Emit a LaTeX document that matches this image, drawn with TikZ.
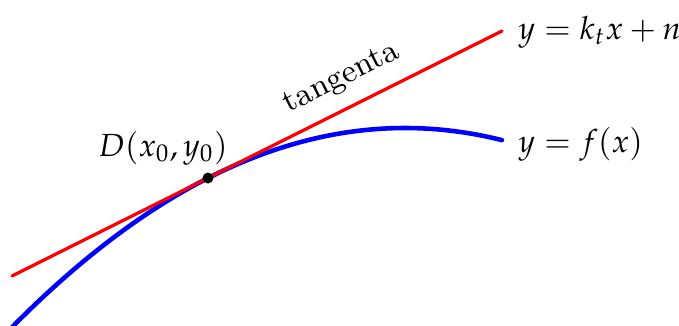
\documentclass[tikz,border=0pt]{standalone}
\usepackage{mathpazo}
\definecolor{TanRed}{HTML}{FF0000}
\definecolor{CurveBlue}{HTML}{0000FF}

\begin{document}
\begin{tikzpicture}[line cap=round,line join=round,font=\fontsize{9.1}{11}\selectfont]
  \useasboundingbox (0,0) rectangle (6.79,3.25);
  \coordinate (D) at (2.08,1.47);
  \coordinate (tA) at (0.12,0.49);
  \coordinate (tB) at (5.02,2.94);
  \draw[CurveBlue,line width=1.3pt,domain=0.12:5.02,samples=80,smooth] plot (\x,{1.97-0.129*(\x-4.05)^2}) coordinate (fEnd);
  \draw[TanRed,line width=0.9pt] (tA) -- (tB);
  \fill (D) circle (0.055);
  \node[anchor=west] (lblT) at (5.06,2.93) {$y=k_tx+n$};
  \node[anchor=west] (lblF) at (5.06,1.81) {$y=f(x)$};
  \node (lblD) at (1.63,1.77) {$D(x_0,y_0)$};
  \node[rotate=26.57] (lblTan) at (3.42,2.46) {tangenta};
\end{tikzpicture}
\end{document}
